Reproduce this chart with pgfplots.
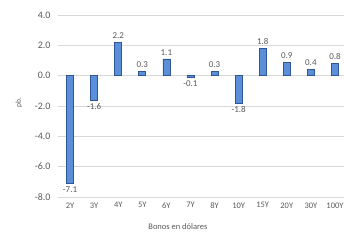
\documentclass[border=0pt]{standalone}
\usepackage{pgfplots}
\pgfplotsset{compat=1.18}
\usepackage{fontspec}
\setmainfont{Carlito}
\definecolor{barfill}{HTML}{5B8FDA}
\definecolor{barline}{HTML}{2F5597}
\definecolor{txt}{HTML}{595959}
\definecolor{grd}{HTML}{D9D9D9}
\begin{document}
\begin{tikzpicture}
\useasboundingbox (0,0) rectangle (344bp,240bp);
\begin{axis}[
  at={(58bp,43bp)}, anchor=south west,
  scale only axis,
  width=289bp, height=182bp,
  ybar, bar width=7bp,
  xmin=-0.5, xmax=11.5,
  ymin=-8, ymax=4,
  ytick={-8,-6,...,4},
  yticklabel style={font=\fontsize{10}{11}\selectfont, xshift=-4bp, /pgf/number format/.cd,fixed,fixed zerofill,precision=1},
  /pgf/number format/assume math mode=true,
  xtick={0,...,11},
  xticklabels={2Y,3Y,4Y,5Y,6Y,7Y,8Y,10Y,15Y,20Y,30Y,100Y},
  axis line style={draw=none},
  major tick length=0pt,
  ymajorgrids, grid style={grd, line width=0.6pt},
  tick label style={text=txt},
  xticklabel style={font=\fontsize{8.5}{9}\selectfont, yshift=-2bp},
  nodes near coords,
  nodes near coords style={font=\fontsize{9}{10}\selectfont, text=txt, /pgf/number format/.cd, fixed, fixed zerofill, precision=1, assume math mode=true},
  xlabel={Bonos en dólares},
  ylabel={pb.},
  xlabel style={font=\fontsize{8.5}{9}\selectfont, text=txt, at={(axis description cs:0.415,-0.165)}, anchor=center},
  ylabel style={font=\fontsize{7.5}{8}\selectfont, text=txt, at={(axis description cs:-0.135,0.52)}, anchor=center},
]
\addplot[fill=barfill, draw=barline, line width=0.6pt] coordinates {
(0,-7.1) (1,-1.6) (2,2.2) (3,0.3) (4,1.1) (5,-0.1) (6,0.3) (7,-1.8) (8,1.8) (9,0.9) (10,0.4) (11,0.8)
};
\end{axis}
\end{tikzpicture}
\end{document}
